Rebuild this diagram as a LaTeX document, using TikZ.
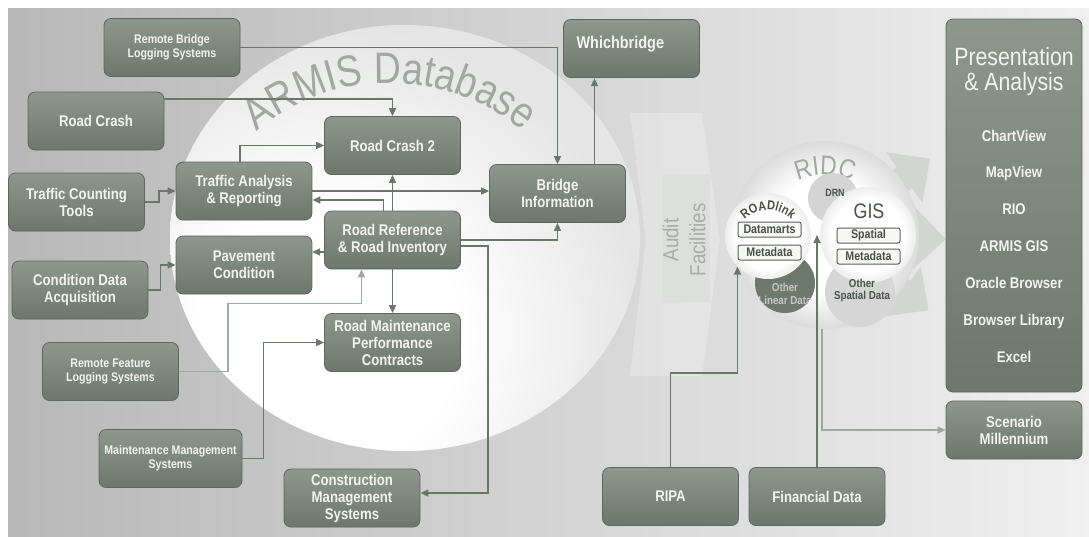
\documentclass[tikz,border=0pt]{standalone}
\usepackage{fontspec}
\setmainfont{Liberation Sans}[FakeStretch=0.85]
\usetikzlibrary{arrows.meta, positioning, decorations.text}

\definecolor{boxtop}{HTML}{8E978D}
\definecolor{boxbot}{HTML}{6E776D}
\definecolor{boxline}{HTML}{5F685E}
\definecolor{boxtext}{HTML}{F2F4F0}
\definecolor{wirecol}{HTML}{687868}
\definecolor{wirelight}{HTML}{9FA99F}
\definecolor{tagline}{HTML}{5A605A}
\definecolor{tagfill}{HTML}{F7F7F5}
\definecolor{darktext}{HTML}{4A504A}
\definecolor{armisgray}{HTML}{A2A7A2}
\definecolor{fangray}{HTML}{D3D5D3}
\definecolor{auditfill}{HTML}{DDDFDD}
\definecolor{audittext}{HTML}{A8ACA8}
\definecolor{oldfill}{HTML}{6F786E}

\pgfdeclareradialshading{glow}{\pgfpointorigin}{color(0bp)=(white); color(10bp)=(white); color(24bp)=(black!10); color(50bp)=(black!10)}
\pgfdeclareradialshading{soft}{\pgfpointorigin}{color(0bp)=(white); color(15bp)=(white); color(25bp)=(black!14); color(50bp)=(black!14)}
\pgfdeclareradialshading{orb}{\pgfpointorigin}{color(0bp)=(white); color(19bp)=(white); color(25bp)=(black!7); color(50bp)=(black!7)}

\newcommand{\bxfont}{\bfseries\fontsize{15.5}{17}\selectfont}
\newcommand{\smfont}{\bfseries\fontsize{12.5}{14.5}\selectfont}
\newcommand{\tgfont}{\bfseries\fontsize{12.5}{14}\selectfont}
\newcommand{\ttlfont}{\fontsize{25}{25}\selectfont}

\begin{document}
\begin{tikzpicture}[x=1pt, y=-1pt,
    box/.style={rectangle, rounded corners=7pt, draw=boxline, line width=0.8pt, top color=boxtop, bottom color=boxbot, text=boxtext, font=\bxfont, align=center, minimum width=136pt, minimum height=58pt, inner sep=2pt},
    smallbox/.style={box, font=\smfont},
    wire/.style={draw=wirecol, line width=1.6pt, -{Triangle[length=8pt, width=7pt]}},
    lightwire/.style={wire, draw=wirelight},
    tag/.style={rectangle, rounded corners=2pt, draw=tagline, line width=1pt, fill=tagfill, text=darktext, font=\tgfont, minimum width=63pt, minimum height=15pt, inner sep=0pt},
    item/.style={text=boxtext, font=\bxfont, inner sep=0pt, text height=11pt, text depth=3pt},
    blob/.style={circle, inner sep=0pt, draw=none},
    fan/.style={draw=fangray, line width=26pt, -{Triangle[length=32pt, width=60pt]}}]
    \useasboundingbox (0,0) rectangle (1089,536);

    % Background and ARMIS sphere
    \shade[left color=black!28, middle color=black!10, right color=black!6] (8,8) rectangle (1089,536);
    \fill[black!10] (405,238) ellipse [x radius=235pt, y radius=213pt];
    \begin{scope}
        \clip (405,238) ellipse [x radius=235pt, y radius=213pt];
        \shade[shading=glow] (330,335) circle (320pt);
    \end{scope}
    \path[decorate, decoration={text along path, text align=center, text color=armisgray,
        text={|\fontsize{44}{44}\selectfont|ARMIS Database}}]
        (390,290) ++(150:207pt) arc[start angle=150, end angle=30, radius=207pt];

    % Audit facilities
    \fill[white, opacity=0.25] (630,113) -- (702,113) -- (720,240) -- (702,376) -- (630,376) -- (646,240) -- cycle;
    \node[fill=auditfill, minimum width=47pt, minimum height=127pt, inner sep=0pt] (AFbox) at (686.5,238.5) {};
    \node[rotate=90, text=audittext, align=center, font=\fontsize{22}{27}\selectfont] (AF) at (684,240) {Audit\\Facilities};

    % RIDC
    \coordinate (FanC) at (825,235);
    \draw[fan] (FanC) -- ++(36:130pt);
    \draw[fan] (FanC) -- ++(-2:121pt);
    \draw[fan] (FanC) -- ++(-36:128pt);
    \node[blob, minimum size=188pt, shade, shading=soft] (RIDC) at (825,235) {};
    \path[decorate, decoration={text along path, text align=center, text color=armisgray,
        text={|\fontsize{27}{27}\selectfont|RIDC}}]
        (825,243) ++(150:68pt) arc[start angle=150, end angle=30, radius=68pt];
    \node[blob, minimum size=50pt, fill=black!17] (DRN) at (833,198) {};
    \node[blob, minimum size=70pt, fill=black!16] (OSD) at (860,292) {};
    \node[blob, minimum size=60pt, fill=oldfill] (OLD) at (785,283) {};
    \node[blob, minimum size=86pt, shade, shading=orb] (RL) at (768,236) {};
    \node[blob, minimum size=96pt, shade, shading=orb] (GIS) at (868,235) {};
    \path[decorate, decoration={text along path, text align=center, text color=darktext,
        text={|\bfseries\fontsize{13}{13}\selectfont|ROADlink}}]
        (768,243) ++(160:33pt) arc[start angle=160, end angle=20, radius=33pt];
    \node[tag] (DM) at (769.5,229.5) {Datamarts};
    \node[tag, below=7pt of DM] (MDa) {Metadata};
    \node[tag] (SP) at (868.5,235.5) {Spatial};
    \node[tag, below=5pt of SP] (MDb) {Metadata};
    \node[text=darktext, font=\fontsize{21}{21}\selectfont] (GISt) at (869,211) {GIS};
    \node[text=darktext, font=\bfseries\fontsize{10.5}{12}\selectfont] (DRNt) at (835,193) {DRN};
    \node[text=darktext, font=\bfseries\fontsize{11.5}{12.5}\selectfont, align=center] (OSDt) at (862,290.5) {Other\\Spatial Data};
    \begin{scope}
        \clip (OLD.center) circle (30pt);
        \node[text=black!22, font=\bfseries\fontsize{11.5}{13}\selectfont, align=center] (OLDt) at (785,293.5) {Other\\Linear Data};
    \end{scope}

    % Sources
    \node[smallbox] (RBL) at (172,47.5) {Remote Bridge\\Logging Systems};
    \node[box] (RC) at (96,121) {Road Crash};
    \node[box] (TCT) at (76.5,202) {Traffic Counting\\Tools};
    \node[box] (CDA) at (80,290) {Condition Data\\Acquisition};
    \node[smallbox] (RFL) at (110.5,371.5) {Remote Feature\\Logging Systems};
    \node[smallbox, minimum width=143pt] (MMS) at (170.5,458.5) {Maintenance Management\\Systems};

    % ARMIS modules
    \node[box] (TAR) at (244,191) {Traffic Analysis\\\& Reporting};
    \node[box] (PC) at (244,265) {Pavement\\Condition};
    \node[box] (RC2) at (392.5,145.5) {Road Crash 2};
    \node[box] (RRI) at (392.5,240) {Road Reference\\\& Road Inventory};
    \node[box] (RMPC) at (392.5,342.5) {Road Maintenance\\Performance\\Contracts};
    \node[box] (CMS) at (352,498) {Construction\\Management\\Systems};
    \node[box] (BI) at (557.5,193.5) {Bridge\\Information};
    \node[box] (WB) at (631.5,48.5) {};
    \node[text=boxtext, font=\bfseries\fontsize{17}{17}\selectfont, anchor=west] (WBt) at (573,44) {Whichbridge};

    % RIDC feeds
    \node[box] (RIPA) at (670.5,496.5) {RIPA};
    \node[box] (FD) at (817,496.5) {Financial Data};

    % Presentation
    \node[box, minimum height=373pt] (PA) at (1014,205.5) {};
    \node[text=boxtext, font=\ttlfont, align=center] (PAt) at (1014,72) {Presentation\\\& Analysis};
    \node[item] (CV) at (1014,137) {ChartView};
    \node[item, below=22.5pt of CV] (MV) {MapView};
    \node[item, below=22.5pt of MV] (RIO) {RIO};
    \node[item, below=22.5pt of RIO] (AG) {ARMIS GIS};
    \node[item, below=22.5pt of AG] (OB) {Oracle Browser};
    \node[item, below=22.5pt of OB] (BL) {Browser Library};
    \node[item, below=22.5pt of BL] (EX) {Excel};
    \node[box] (SM) at (1014,430) {Scenario\\Millennium};

    % Wires
    \draw[wire] (RBL.east) -| (BI.north);
    \draw[wire] ([yshift=22pt]RC.east) -| (RC2.north);
    \draw[wire] ([xshift=-4pt]TAR.north) |- (RC2.west);
    \draw[wire] (TCT.east) -- ++(14,0) |- (TAR.west);
    \draw[wire] (TAR.east) -- (TAR.east -| BI.west);
    \draw[wire] ([xshift=-9pt]RRI.north) |- ([yshift=-9pt]TAR.east);
    \draw[wire] (RRI.north) -- (RC2.south);
    \draw[wire] ([yshift=-12pt]RRI.west) -- ++(-12,0);
    \draw[wire] (CDA.east) -- ++(12,0) |- (PC.west);
    \draw[lightwire] (RFL.east) -- ++(49,0) -- ++(0,-68) -| ([xshift=-31pt]RRI.south);
    \draw[wire] (RRI.south) -- (RMPC.north);
    \draw[wire] (MMS.east) -- ++(21,0) |- (RMPC.west);
    \draw[wire] (RRI.east) -| (BI.south);
    \draw[wire] ([yshift=-6pt]RRI.east) -- ++(27,0) |- ([yshift=5pt]CMS.east);
    \draw[wire] ([xshift=37pt]BI.north) -- ++(0,-86);
    \draw[wire] (RIPA.north) -- ++(0,-94) -| (RL.south west);
    \draw[wire] (FD.north) -- (FD.north |- GIS.west);
    \draw[lightwire] ([xshift=-3pt]RIDC.south) |- (SM.west);
\end{tikzpicture}
\end{document}
